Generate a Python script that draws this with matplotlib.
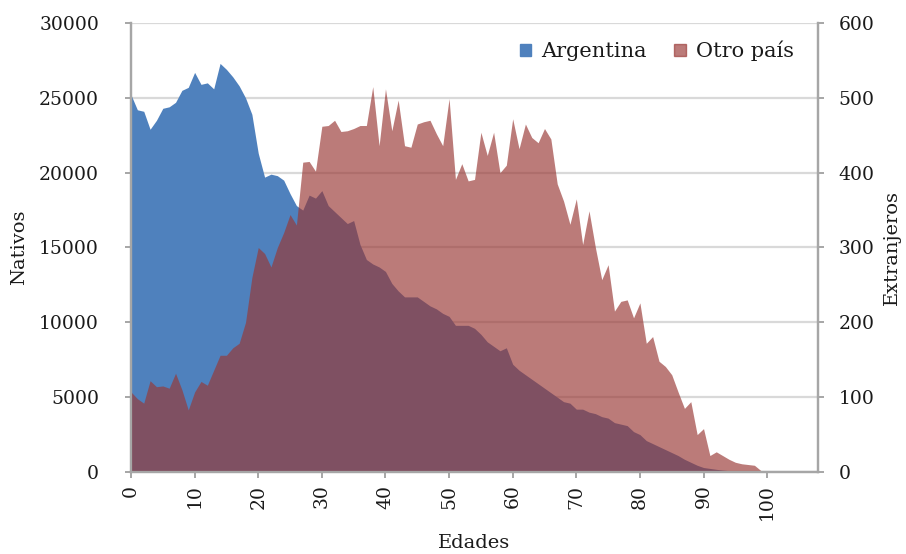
import matplotlib
matplotlib.use("Agg")
import matplotlib.pyplot as plt
import numpy as np
from matplotlib.patches import Patch

# ages 0..108
edades = list(range(0, 109))

argentina = [
    25200, 24200, 24100, 22900, 23500, 24300, 24400, 24700, 25500, 25700,
    26700, 25900, 26000, 25600, 27300, 26900, 26400, 25800, 25000, 23900,
    21300, 19700, 19900, 19800, 19500, 18600, 17800, 17500, 18500, 18300,
    18800, 17800, 17400, 17000, 16600, 16800, 15200, 14200, 13900, 13700,
    13400, 12600, 12100, 11700, 11700, 11700, 11400, 11100, 10900, 10600,
    10400, 9800, 9800, 9800, 9600, 9200, 8700, 8400, 8100, 8300,
    7200, 6800, 6500, 6200, 5900, 5600, 5300, 5000, 4700, 4600,
    4200, 4200, 4000, 3900, 3700, 3600, 3300, 3200, 3100, 2700,
    2500, 2100, 1900, 1700, 1500, 1300, 1100, 850, 650, 450,
    300, 240, 180, 130, 90, 60, 40, 25, 15, 10,
    6, 4, 3, 2, 1, 1, 0, 0, 0,
]

otro_pais = [
    107, 98, 92, 122, 114, 115, 112, 132, 110, 83,
    107, 121, 116, 136, 156, 156, 166, 172, 200, 260,
    300, 292, 274, 300, 320, 344, 330, 414, 415, 402,
    462, 463, 470, 455, 456, 459, 463, 463, 515, 436,
    512, 456, 497, 436, 434, 465, 468, 470, 452, 436,
    499, 391, 412, 389, 391, 454, 423, 454, 400, 410,
    472, 432, 465, 447, 440, 459, 445, 385, 362, 331,
    365, 304, 349, 300, 257, 277, 215, 228, 230, 206,
    226, 172, 181, 148, 141, 130, 107, 85, 94, 50,
    58, 22, 27, 22, 17, 13, 11, 10, 9, 2,
    1, 1, 0, 0, 1, 1, 0, 0, 0,
]

x_ticks = list(range(0, 101, 10))
left_ticks = [0, 5000, 10000, 15000, 20000, 25000, 30000]
right_ticks = [0, 100, 200, 300, 400, 500, 600]

blue = "#4F81BD"
red = "#993734"
axis_gray = "#A6A6A6"
grid_gray = "#D9D9D9"
txt = "#1A1A1A"
font = "DejaVu Serif"

plt.rcParams["font.family"] = font

fig = plt.figure(figsize=(9.06, 5.54), dpi=100, facecolor="white")
ax = fig.add_axes([0.1446, 0.148, 0.7583, 0.8105])
ax2 = ax.twinx()

ax.fill_between(edades, argentina, 0, color=blue, linewidth=0, zorder=2)
ax2.fill_between(edades, otro_pais, 0, color=red, alpha=0.66, linewidth=0, zorder=2)

ax.set_xlim(0, 108)
ax.set_ylim(0, 30000)
ax2.set_ylim(0, 600)

ax.set_yticks(left_ticks)
ax2.set_yticks(right_ticks)
ax.set_xticks(x_ticks)
ax.set_xticklabels([str(v) for v in x_ticks], rotation=90)

ax.yaxis.grid(True, color=grid_gray, linewidth=1.6, zorder=0)
ax.set_axisbelow(True)

for a in (ax, ax2):
    a.spines["top"].set_visible(False)
    for s in ("left", "right", "bottom"):
        a.spines[s].set_color(axis_gray)
        a.spines[s].set_linewidth(1.6)
    a.tick_params(colors=axis_gray, labelcolor=txt, labelsize=13.5, length=4,
                  width=1.4)
ax.tick_params(axis="y", pad=19)
ax2.tick_params(axis="y", pad=11)
ax.tick_params(axis="x", pad=5)

ax.set_xlabel("Edades", fontsize=14, color=txt, labelpad=10)
ax.set_ylabel("Nativos", fontsize=14, color=txt, labelpad=8)
ax2.set_ylabel("Extranjeros", fontsize=14, color=txt, labelpad=6)

handles = [Patch(color=blue), Patch(color=red, alpha=0.66)]
leg = ax2.legend(handles, ["Argentina", "Otro país"], loc="upper right",
                 bbox_to_anchor=(0.965, 0.96), ncol=2, frameon=False,
                 fontsize=15, handlelength=0.55, handleheight=0.55,
                 handletextpad=0.5, columnspacing=1.3, borderaxespad=0, borderpad=0)
for t in leg.get_texts():
    t.set_color(txt)

fig.savefig("out.png", dpi=100, facecolor="white")
